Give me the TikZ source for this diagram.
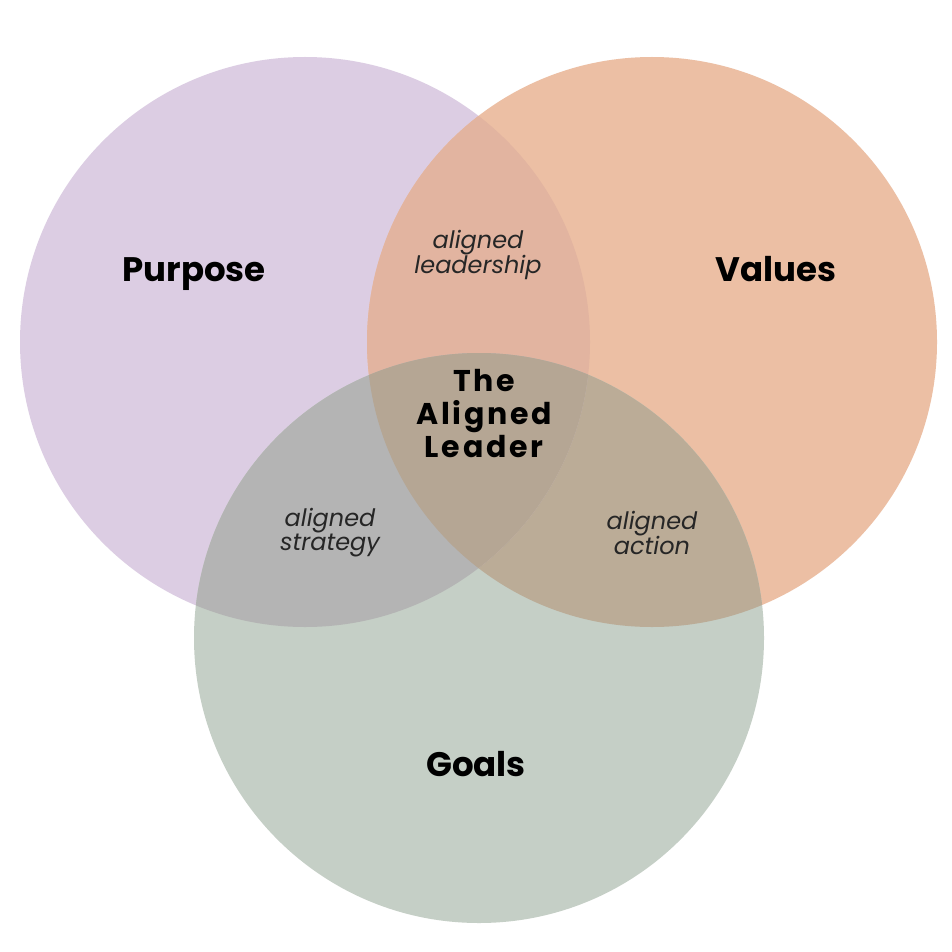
\documentclass[tikz,border=0pt]{standalone}
\usepackage{fontspec}
\setmainfont{Poppins}
\definecolor{lilac}{HTML}{DCCDE3}
\definecolor{peach}{HTML}{ECBFA4}
\definecolor{sage}{HTML}{C5CFC6}
\definecolor{lilpeach}{HTML}{E2B4A0}
\definecolor{lilsage}{HTML}{B4B4B4}
\definecolor{peachsage}{HTML}{BBAC97}
\definecolor{core}{HTML}{B5A694}
\tikzset{
  setlbl/.style  ={font=\fontsize{34}{38}\selectfont\bfseries,text=black,inner sep=0pt,anchor=base},
  pairlbl/.style ={font=\fontsize{24}{24}\selectfont\itshape,text=black!85,align=center,inner sep=0pt},
  corelbl/.style ={font=\fontsize{30}{33}\selectfont\bfseries\addfontfeatures{LetterSpace=9},
                   text=black,align=center,inner sep=0pt},
}
\begin{document}
\begin{tikzpicture}[x=1pt,y=-1pt]
  \useasboundingbox (0,0) rectangle (952,952);
  \fill[white] (0,0) rectangle (952,952);
  % circle centres
  \def\rad{285pt}
  \coordinate (cp) at (305,342);
  \coordinate (cv) at (652,342);
  \coordinate (cg) at (479,638);

  % single sets
  \fill[lilac] (cp) circle (\rad);
  \fill[peach] (cv) circle (\rad);
  \fill[sage] (cg) circle (\rad);

  % overlaps
  \begin{scope}
    \clip (cv) circle (\rad);
    \fill[peachsage] (cg) circle (\rad);
  \end{scope}
  \begin{scope}
    \clip (cp) circle (\rad);
    \fill[lilpeach] (cv) circle (\rad);
    \fill[lilsage] (cg) circle (\rad);
    \clip (cv) circle (\rad);
    \fill[core] (cg) circle (\rad);
  \end{scope}

  % labels
  \node[setlbl] (purpose) at (194,281) {Purpose};
  \node[setlbl] (values) at (776,281) {Values};
  \node[setlbl] (goals) at (476,776) {Goals};
  \node[pairlbl] (lead) at (478,255) {aligned\\leadership};
  \node[pairlbl] (strat) at (330,533) {aligned\\strategy};
  \node[pairlbl] (act) at (652,533) {aligned\\action};
  \node[corelbl] (leader) at (484,414) {The\\Aligned\\Leader};
\end{tikzpicture}
\end{document}
